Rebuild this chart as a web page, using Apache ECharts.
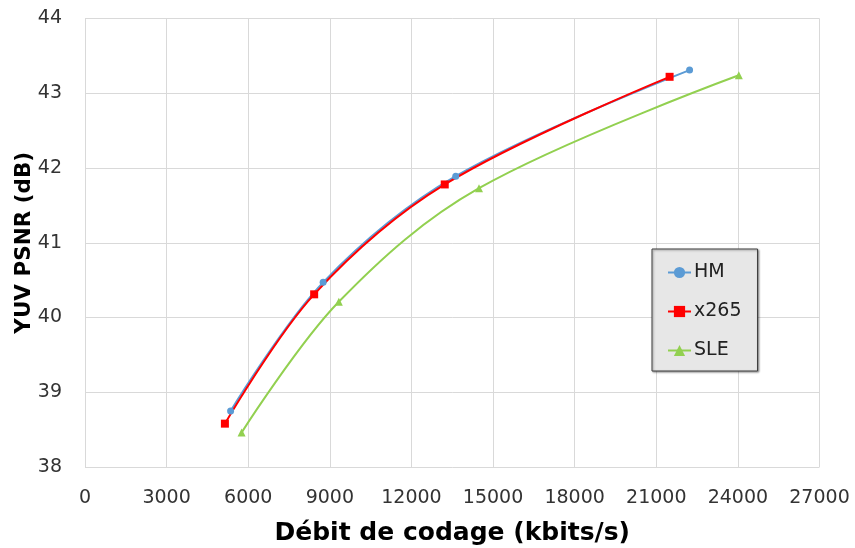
<!DOCTYPE html>
<html><head><meta charset="utf-8">
<script src="https://cdn.jsdelivr.net/npm/echarts@6/dist/echarts.min.js"></script>
<style>html,body{margin:0;padding:0;background:#fff}#c{width:855px;height:548px}</style>
</head><body><div id="c"></div>
<script>
const seriesNames = ['HM', 'x265', 'SLE'];
const hmRate = [5352, 8754, 13628, 22224];
const hmPsnr = [38.75, 40.47, 41.89, 43.31];
const x265Rate = [5143, 8424, 13224, 21490];
const x265Psnr = [38.58, 40.31, 41.78, 43.22];
const sleRate = [5755, 9330, 14484, 24035];
const slePsnr = [38.46, 40.21, 41.73, 43.24];
const xTicks = [0, 3000, 6000, 9000, 12000, 15000, 18000, 21000, 24000, 27000];
const yTicks = [38, 39, 40, 41, 42, 43, 44];
const xTitle = 'Débit de codage (kbits/s)';
const yTitle = 'YUV PSNR (dB)';

const FONT = 'DejaVu Sans';
const pairs = (xs, ys) => xs.map((x, i) => [x, ys[i]]);
const chart = echarts.init(document.getElementById('c'), null, {renderer: 'canvas'});
const mk = (name, data, color, symbol, size) => ({
  name, type: 'line', data, smooth: 0.35,
  symbol, symbolSize: size, showSymbol: true,
  lineStyle: {color, width: 2},
  itemStyle: {color},
  emphasis: {disabled: true}
});
chart.setOption({
  animation: false,
  textStyle: {fontFamily: FONT},
  grid: {left: 85, right: 35.5, top: 18.5, bottom: 81, containLabel: false, outerBoundsMode: 'none'},
  xAxis: {
    type: 'value', min: xTicks[0], max: xTicks[xTicks.length - 1], interval: 3000,
    axisLine: {show: false}, axisTick: {show: false},
    splitLine: {lineStyle: {color: '#d9d9d9', width: 1}},
    axisLabel: {fontSize: 19, color: '#333', margin: 22, fontFamily: FONT, formatter: v => String(v)},
    name: xTitle, nameLocation: 'middle', nameGap: 54, nameMoveOverlap: false,
    nameTextStyle: {fontSize: 25, fontWeight: 'bold', color: '#000', fontFamily: FONT}
  },
  yAxis: {
    type: 'value', min: yTicks[0], max: yTicks[yTicks.length - 1], interval: 1,
    axisLine: {show: false}, axisTick: {show: false},
    splitLine: {lineStyle: {color: '#d9d9d9', width: 1}},
    axisLabel: {fontSize: 19, color: '#333', margin: 23, fontFamily: FONT, formatter: v => String(v)},
    name: yTitle, nameLocation: 'middle', nameGap: 50, nameRotate: 90, nameMoveOverlap: false,
    nameTextStyle: {fontSize: 21.5, fontWeight: 'bold', color: '#000', fontFamily: FONT}
  },
  legend: {
    data: seriesNames, orient: 'vertical', left: 652, top: 249,
    backgroundColor: '#e7e7e7', borderColor: '#404040', borderWidth: 1,
    shadowColor: 'rgba(0,0,0,0.4)', shadowBlur: 2, shadowOffsetX: 1, shadowOffsetY: 1,
    padding: [14, 16, 11, 15], itemGap: 20, itemWidth: 23, itemHeight: 14,
    textStyle: {fontSize: 19, color: '#222', fontFamily: FONT, padding: [0, 0, 0, -2]}
  },
  series: [
    mk(seriesNames[0], pairs(hmRate, hmPsnr), '#5b9bd5', 'circle', 7),
    mk(seriesNames[1], pairs(x265Rate, x265Psnr), '#ff0000', 'rect', 8),
    mk(seriesNames[2], pairs(sleRate, slePsnr), '#92d050', 'triangle', 8)
  ]
});
</script></body></html>
